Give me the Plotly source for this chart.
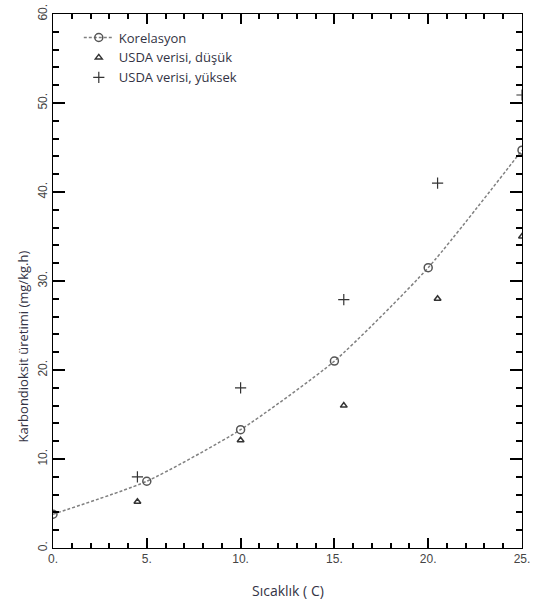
import plotly.graph_objects as go

# Data
kor_x = [0, 5, 10, 15, 20, 25]
kor_y = [3.8, 7.5, 13.3, 21.0, 31.5, 44.7]

low_x = [4.5, 10, 15.5, 20.5, 25]
low_y = [5.2, 12.1, 16.0, 28.0, 35.0]

high_x = [4.5, 10, 15.5, 20.5, 25]
high_y = [8.0, 18.0, 27.9, 41.0, 50.9]

x_range = [0, 25]
y_range = [0, 60]

tick_col = "black"
text_col = "#333344"

fig = go.Figure()
fig.add_trace(go.Scatter(
    x=kor_x, y=kor_y, name="Korelasyon", mode="lines+markers",
    line=dict(color="#808080", width=1.5, dash="3px,2px", shape="spline", smoothing=0.6),
    marker=dict(symbol="circle-open", size=8, color="#555555", line=dict(width=1.5)),
))
fig.add_trace(go.Scatter(
    x=low_x, y=low_y, name="USDA verisi, düşük", mode="markers",
    marker=dict(symbol="triangle-up-open", size=6, color="#333333", line=dict(width=1.5)),
))
fig.add_trace(go.Scatter(
    x=high_x, y=high_y, name="USDA verisi, yüksek", mode="markers",
    marker=dict(symbol="cross-thin-open", size=8, color="#333333", line=dict(width=1.2, color="#333333")),
))

fig.update_layout(
    template="none",
    width=536, height=603,
    margin=dict(l=53, r=14, t=14, b=55),
    plot_bgcolor="white",
    showlegend=True,
    legend=dict(x=0.055, y=0.984, xanchor="left", yanchor="top",
                bgcolor="rgba(0,0,0,0)", font=dict(family="Open Sans", size=13, color=text_col),
                itemwidth=30, tracegroupgap=0),
)

fig.update_xaxes(
    range=x_range, showline=True, linecolor="black", mirror="ticks",
    ticks="inside", ticklen=10, tickwidth=2, tickcolor=tick_col,
    showgrid=False, automargin=False,
    dtick=5, ticksuffix=".",
    minor=dict(dtick=1, ticks="inside", ticklen=5, tickcolor=tick_col, tickwidth=1.5),
    tickfont=dict(family="Liberation Sans", size=12, color="#444444"),
)
fig.update_yaxes(
    range=y_range, showline=True, linecolor="black", mirror="ticks",
    ticks="inside", ticklen=12, tickwidth=2, tickcolor=tick_col,
    showgrid=False, automargin=False,
    dtick=10, ticksuffix=".", tickangle=-90,
    minor=dict(dtick=2, ticks="inside", ticklen=6, tickcolor=tick_col, tickwidth=1.5),
    tickfont=dict(family="Liberation Sans", size=12, color="#444444"),
)

fig.add_annotation(
    text="Karbondioksit üretimi (mg/kg.h)", textangle=-90,
    xref="paper", yref="y", x=-0.065, y=22.6, xanchor="center", yanchor="middle",
    showarrow=False, font=dict(family="Open Sans", size=13, color=text_col),
)
fig.add_annotation(
    text="Sıcaklık ( C)",
    xref="x", yref="paper", x=12.5, y=-0.079, xanchor="center", yanchor="middle",
    showarrow=False, font=dict(family="Open Sans", size=14, color=text_col),
)

# remove the default 8px page margin so the figure fills the window exactly
fig.write_html("out.html", config={"displayModeBar": False},
               post_script="document.body.style.margin='0px';")
